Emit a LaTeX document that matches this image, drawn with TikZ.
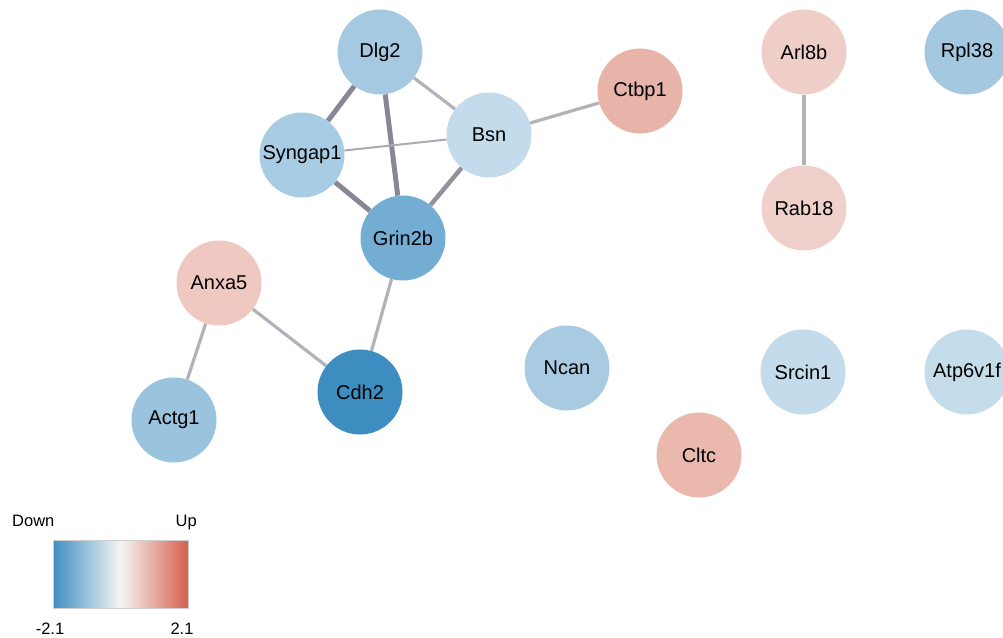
\documentclass[tikz,border=0pt]{standalone}
\usepackage{fontspec}
\setmainfont{Liberation Sans}
\usetikzlibrary{backgrounds}

% node fill colours (expression scale, blue = down, red = up)
\definecolor{cCdh}{HTML}{3D8DC1}
\definecolor{cGrin}{HTML}{74ADD3}
\definecolor{cDlg}{HTML}{A4C9E1}
\definecolor{cSyn}{HTML}{A8CCE3}
\definecolor{cBsn}{HTML}{C3DBEA}
\definecolor{cActg}{HTML}{9AC3DE}
\definecolor{cAnxa}{HTML}{EFC9C1}
\definecolor{cCtbp}{HTML}{E8B3A9}
\definecolor{cArl}{HTML}{F0CEC8}
\definecolor{cRab}{HTML}{F0D0CA}
\definecolor{cRpl}{HTML}{A3C8E0}
\definecolor{cNcan}{HTML}{A8CBE2}
\definecolor{cSrc}{HTML}{C3DBEA}
\definecolor{cAtp}{HTML}{C5DCEA}
\definecolor{cCltc}{HTML}{EBB8AE}
% edge greys
\definecolor{eStrong}{HTML}{868995}
\definecolor{eMid}{HTML}{90929C}
\definecolor{eWeak}{HTML}{B2B2BA}
\definecolor{eFaint}{HTML}{ABABB5}
% legend colours
\definecolor{legBlue}{HTML}{3E8EC1}
\definecolor{legRed}{HTML}{D6604D}
\definecolor{legMid}{HTML}{F5F5F5}
\definecolor{legFrame}{HTML}{CFCFCF}

\begin{document}
\begin{tikzpicture}[x=1pt,y=-1pt,
  gene/.style={circle, minimum size=85pt, inner sep=0pt, draw=none,
    font=\fontsize{20}{22}\selectfont, text=black},
  strong/.style={draw=eStrong, line width=5pt},
  mid/.style={draw=eMid, line width=4.5pt},
  weak/.style={draw=eWeak, line width=3.2pt},
  faint/.style={draw=eFaint, line width=2pt},
  legtext/.style={font=\fontsize{16.5}{18}\selectfont, text=black, inner sep=0pt}
]
\useasboundingbox (0,0) rectangle (1003,637);
\clip (0,0) rectangle (1003,637);

% genes
\node[gene, fill=cDlg]   (dlg2)    at (380,52)  {Dlg2};
\node[gene, fill=cBsn]   (bsn)     at (489,135) {Bsn};
\node[gene, fill=cSyn]   (syngap1) at (302,155) {Syngap1};
\node[gene, fill=cGrin]  (grin2b)  at (403,238) {Grin2b};
\node[gene, fill=cCtbp]  (ctbp1)   at (640,91)  {Ctbp1};
\node[gene, fill=cAnxa]  (anxa5)   at (219,283) {Anxa5};
\node[gene, fill=cCdh]   (cdh2)    at (360,392) {Cdh2};
\node[gene, fill=cActg]  (actg1)   at (174,420) {Actg1};
\node[gene, fill=cNcan]  (ncan)    at (567,368) {Ncan};
\node[gene, fill=cCltc]  (cltc)    at (699,455) {Cltc};
\node[gene, fill=cArl]   (arl8b)   at (804,52)  {Arl8b};
\node[gene, fill=cRab]   (rab18)   at (804,208) {Rab18};
\node[gene, fill=cRpl]   (rpl38)   at (967,52)  {Rpl38};
\node[gene, fill=cSrc]   (srcin1)  at (803,372) {Srcin1};
\node[gene, fill=cAtp]   (atp6v1f) at (967,372) {Atp6v1f};

% interactions, behind the genes
\begin{scope}[on background layer]
  \draw[strong] (dlg2) -- (syngap1);
  \draw[strong] (dlg2) -- (grin2b);
  \draw[strong] (syngap1) -- (grin2b);
  \draw[mid]    (bsn) -- (grin2b);
  \draw[weak]   (dlg2) -- (bsn);
  \draw[faint]  (syngap1) -- (bsn);
  \draw[weak]   (bsn) -- (ctbp1);
  \draw[weak]   (grin2b) -- (cdh2);
  \draw[weak]   (anxa5) -- (cdh2);
  \draw[weak]   (anxa5) -- (actg1);
  \draw[weak]   (arl8b) -- (rab18);
\end{scope}

% colour legend
\shade[left color=legBlue, right color=legRed, middle color=legMid]
  (53,540) rectangle (188,608);
\draw[legFrame, line width=0.8pt] (53,540) rectangle (188,608);
\node[legtext, anchor=base west] (down) at (12,526) {Down};
\node[legtext, anchor=base east] (up)   at (197,526) {Up};
\node[legtext, anchor=base] (lo) at (50,634) {-2.1};
\node[legtext, anchor=base] (hi) at (182,634) {2.1};
\end{tikzpicture}
\end{document}
